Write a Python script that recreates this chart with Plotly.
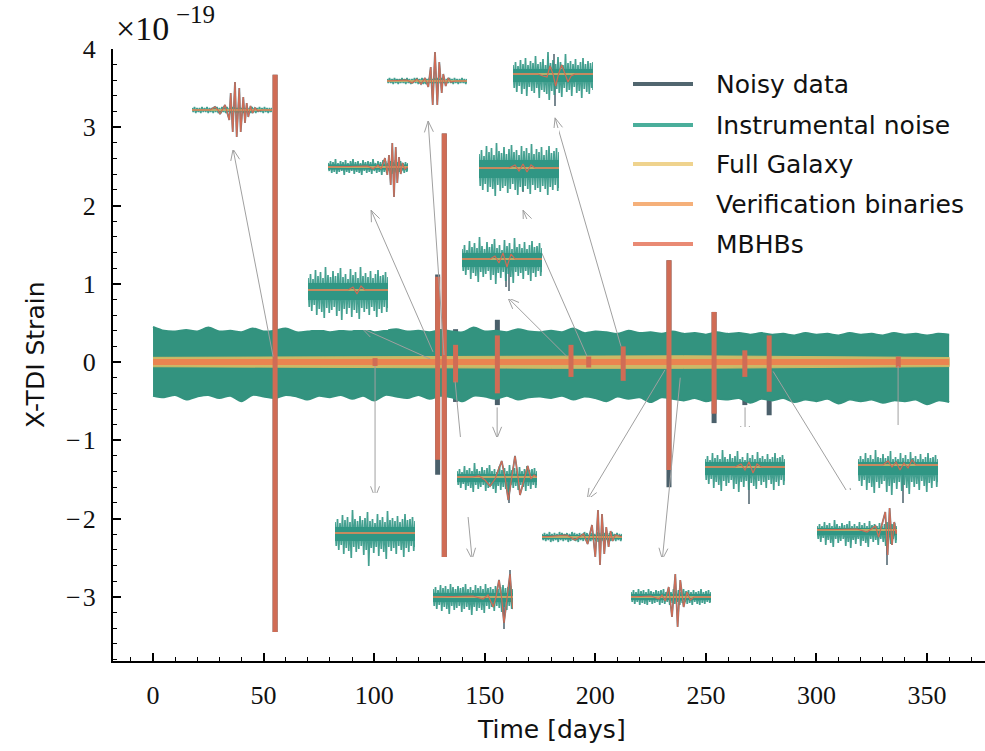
import math
import plotly.graph_objects as go

# ---------------- main panel data (strain, units of 1e-19) ----------------
noise_days = list(range(0, 361, 5))
noise_upper = [0.45, 0.40, 0.39, 0.41, 0.39, 0.44, 0.39, 0.40, 0.38, 0.43,
               0.39, 0.40, 0.43, 0.38, 0.39, 0.41, 0.38, 0.40, 0.39, 0.43,
               0.38, 0.40, 0.42, 0.39, 0.40, 0.38, 0.41, 0.39, 0.38, 0.44,
               0.39, 0.40, 0.38, 0.42, 0.39, 0.38, 0.40, 0.38, 0.43, 0.37,
               0.39, 0.38, 0.36, 0.40, 0.37, 0.38, 0.36, 0.39, 0.36, 0.37,
               0.35, 0.38, 0.36, 0.37, 0.35, 0.37, 0.35, 0.36, 0.34, 0.37,
               0.35, 0.36, 0.34, 0.37, 0.35, 0.36, 0.34, 0.37, 0.35, 0.36,
               0.34, 0.36, 0.35]
noise_lower = [-0.43, -0.45, -0.42, -0.48, -0.44, -0.42, -0.46, -0.43, -0.50, -0.42,
               -0.44, -0.46, -0.42, -0.44, -0.48, -0.43, -0.45, -0.42, -0.47, -0.43,
               -0.49, -0.42, -0.44, -0.46, -0.42, -0.47, -0.43, -0.45, -0.50, -0.43,
               -0.44, -0.47, -0.43, -0.48, -0.45, -0.44, -0.46, -0.43, -0.48, -0.44,
               -0.46, -0.50, -0.44, -0.47, -0.45, -0.51, -0.45, -0.47, -0.49, -0.46,
               -0.50, -0.47, -0.48, -0.46, -0.52, -0.47, -0.49, -0.46, -0.51, -0.48,
               -0.50, -0.47, -0.53, -0.48, -0.50, -0.48, -0.52, -0.49, -0.50, -0.48,
               -0.54, -0.49, -0.51]
galaxy_days = list(range(0, 361, 20))
galaxy_upper = [0.060, 0.062, 0.064, 0.066, 0.068, 0.070, 0.072, 0.074, 0.077, 0.080,
                0.082, 0.082, 0.080, 0.077, 0.073, 0.068, 0.064, 0.060, 0.058]
galaxy_lower = [-0.060, -0.062, -0.064, -0.066, -0.068, -0.070, -0.072, -0.074, -0.077, -0.080,
                -0.082, -0.082, -0.080, -0.077, -0.073, -0.068, -0.064, -0.060, -0.058]
verif_days = [0, 360]
verif_strain = [0.0, 0.0]
mbhb_days = [55.2, 128.7, 131.7, 136.8, 155.7, 100.4, 189.0, 197.0, 212.6, 233.3, 253.7, 267.6, 278.6, 337.0]
mbhb_top = [3.67, 1.09, 2.92, 0.22, 0.34, 0.05, 0.22, 0.07, 0.20, 1.30, 0.64, 0.15, 0.34, 0.07]
mbhb_bottom = [-3.45, -1.25, -2.56, -0.26, -0.40, -0.05, -0.19, -0.07, -0.24, -1.38, -0.66, -0.19, -0.38, -0.07]
data_top = [3.67, 1.12, 2.92, 0.42, 0.54, 0.05, 0.22, 0.07, 0.20, 1.30, 0.64, 0.15, 0.34, 0.07]
data_bottom = [-3.45, -1.44, -2.56, -0.51, -0.55, -0.05, -0.19, -0.07, -0.24, -1.60, -0.78, -0.55, -0.68, -0.07]

x_ticks = [0, 50, 100, 150, 200, 250, 300, 350]
y_ticks = [-3, -2, -1, 0, 1, 2, 3, 4]
y_ticktext = ["−\u200a3", "−\u200a2", "−\u200a1", "0", "1", "2", "3", "4"]
legend_labels = ["Noisy data", "Instrumental noise", "Full Galaxy", "Verification binaries", "MBHBs"]

# ---------------- zoom-in panels (local units) ----------------
inset_t = [2.5 * i for i in range(33)]

A_core = (1, -1)
A_hi = [2, 3, 2, 2, 3, 2, 3, 2, 2, 3, 3, 2, 3, 2, 3, 2, 3, 3, 2, 3, 2, 2, 3, 2, 3, 2, 2, 3, 2, 3, 2, 2, 2]
A_lo = [-2, -3, -2, -3, -2, -2, -3, -2, -3, -2, -3, -3, -2, -3, -2, -3, -2, -3, -3, -2, -3, -2, -2, -3, -2, -3, -2, -2, -3, -2, -3, -2, -2]
A_ct = [0, 18, 23, 26, 28, 31, 33, 35.3, 37.3, 38.7, 40.7, 43, 44.7, 47.3, 48.7, 51.3, 53, 54.7, 56.3, 58.5, 60.5, 63, 66, 70, 80]
A_cv = [0, 0, 3, 0, -4, 2, 5, -3, -10, 17, -22, 28, -27, 22, -22, 13, -13, 7, -7, 4, -3, 2, -1, 0, 0]
A_dark = []

B_core = (1, -1)
B_hi = [2, 3, 2, 3, 2, 2, 3, 2, 3, 2, 2, 3, 3, 2, 3, 2, 2, 3, 2, 3, 3, 2, 3, 2, 2, 3, 2, 3, 2, 2, 3, 2, 2]
B_lo = [-2, -2, -3, -2, -3, -2, -2, -3, -2, -3, -2, -2, -3, -2, -3, -3, -2, -2, -3, -2, -3, -2, -2, -3, -2, -2, -3, -2, -3, -2, -2, -3, -2]
B_ct = [0, 20, 25, 30, 34, 38, 41.3, 43.7, 45.7, 48, 50.3, 52.3, 54.7, 56.3, 58.7, 61.3, 64, 68, 80]
B_cv = [0, 1, -2, 2, -3, 3, -6, 14, -24, 29, -24, 19, -12, 7, -5, 3, -1, 0, 0]
B_dark = []

C_core = (2.5, -2.5)
C_hi = [4, 6, 5, 8, 4, 6, 5, 7, 4, 6, 8, 5, 6, 4, 7, 5, 6, 5, 8, 4, 6, 5, 7, 6, 4, 6, 5, 7, 5, 6, 4, 5, 4]
C_lo = [-4, -6, -5, -7, -5, -4, -8, -5, -6, -4, -7, -5, -6, -8, -4, -6, -5, -7, -4, -6, -5, -8, -5, -6, -4, -7, -5, -6, -5, -4, -6, -5, -4]
C_ct = [0, 40, 45, 50, 53, 55, 57, 59.3, 61, 62.7, 64.3, 66, 67.7, 69.3, 71, 72.7, 74.5, 76.5, 80]
C_cv = [0, 1, -2, 2, -2, 3, 9, -8, 12, -18, 24, -30, 20, -16, 10, -7, 4, -2, 0]
C_dark = []

D_core = (5, -8)
D_hi = [9, 12, 8, 14, 10, 16, 9, 13, 11, 18, 10, 12, 15, 9, 22, 11, 14, 10, 17, 12, 9, 20, 11, 13, 10, 15, 9, 12, 16, 10, 13, 11, 12]
D_lo = [-14, -18, -12, -20, -15, -22, -13, -17, -19, -14, -24, -16, -18, -20, -26, -17, -21, -15, -19, -23, -14, -18, -16, -22, -13, -19, -17, -24, -15, -18, -20, -14, -16]
D_ct = [0, 25, 30, 34, 37, 40, 42.7, 45.5, 48.7, 52, 55, 58, 62, 80]
D_cv = [0, 0, -2, -3, 8, 0, -12, 0, 9, 0, -8, -2, 0, 0]
D_dark = [(42.0, -32), (41.0, 20)]

E_core = (8, -10)
E_hi = [14, 18, 12, 22, 16, 20, 13, 25, 17, 15, 21, 14, 19, 23, 16, 18, 13, 22, 17, 20, 15, 24, 14, 19, 16, 21, 13, 18, 22, 15, 17, 20, 16]
E_lo = [-18, -22, -16, -24, -19, -21, -28, -17, -23, -20, -18, -25, -21, -16, -22, -27, -19, -23, -18, -21, -26, -17, -22, -20, -24, -18, -21, -27, -19, -22, -17, -23, -20]
E_ct = [0, 30, 36, 40, 44, 48, 52, 56, 80]
E_cv = [0, 0, 3, -3, 4, -4, 3, 0, 0]
E_dark = [(44.0, -24)]

F_core = (6, -8)
F_hi = [10, 14, 9, 18, 12, 16, 11, 22, 13, 10, 17, 12, 15, 20, 11, 14, 9, 19, 13, 16, 10, 21, 12, 15, 11, 17, 10, 14, 18, 12, 13, 16, 11]
F_lo = [-12, -16, -11, -20, -14, -17, -23, -13, -18, -15, -12, -21, -16, -25, -14, -19, -13, -22, -15, -18, -24, -13, -17, -14, -20, -12, -16, -22, -14, -18, -12, -17, -13]
F_ct = [0, 28, 33, 37, 41, 45, 49, 53, 80]
F_cv = [0, 0, 3, -4, 6, -8, 5, 0, 0]
F_dark = [(44.0, -28), (47.0, -32)]

G_core = (7, -10)
G_hi = [12, 16, 11, 20, 14, 18, 12, 23, 15, 13, 19, 14, 17, 22, 13, 16, 11, 21, 15, 18, 12, 23, 14, 17, 13, 19, 12, 16, 20, 14, 15, 18, 13]
G_lo = [-17, -21, -15, -25, -19, -22, -28, -18, -23, -20, -17, -26, -21, -30, -19, -24, -18, -27, -20, -23, -29, -18, -22, -19, -25, -17, -21, -27, -19, -23, -17, -22, -18]
G_ct = [0, 40, 45, 49, 53, 57, 80]
G_cv = [0, 0, 3, -4, 4, 0, 0]
G_dark = []

H_core = (6, -8)
H_hi = [11, 14, 10, 18, 13, 16, 11, 23, 14, 12, 17, 13, 15, 21, 12, 14, 10, 19, 13, 16, 11, 22, 13, 15, 12, 17, 11, 14, 19, 13, 14, 16, 12]
H_lo = [-13, -17, -12, -21, -15, -18, -25, -14, -19, -16, -13, -22, -17, -33, -15, -20, -14, -23, -16, -19, -26, -14, -18, -15, -21, -13, -17, -24, -15, -19, -13, -18, -14]
H_ct = [0, 80]
H_cv = [0, 0]
H_dark = []

I_core = (3, -5)
I_hi = [6, 8, 5, 11, 7, 9, 6, 14, 8, 6, 10, 7, 9, 12, 6, 8, 5, 11, 7, 9, 6, 12, 7, 9, 6, 10, 6, 8, 11, 7, 8, 9, 6]
I_lo = [-8, -11, -7, -13, -9, -11, -15, -8, -12, -10, -8, -14, -11, -9, -12, -16, -9, -13, -10, -12, -15, -8, -11, -9, -13, -8, -10, -14, -9, -12, -8, -11, -8]
I_ct = [0, 15, 22, 28, 33, 38, 44.7, 48, 51.3, 55, 58, 61, 63, 67, 70.7, 74, 77, 80]
I_cv = [0, 0, 1, -3, -9, -2, 16, 0, -23, 0, 21, 0, -18, -3, 11, -2, 2, 0]
I_dark = [(52.0, -26)]

J_core = (4, -5)
J_hi = [8, 10, 7, 12, 9, 11, 8, 13, 10, 8, 11, 9, 10, 13, 8, 10, 7, 12, 9, 11, 8, 13, 9, 10, 8, 11, 8, 10, 12, 9, 10, 11, 8]
J_lo = [-9, -12, -8, -14, -10, -12, -17, -9, -13, -11, -9, -15, -12, -10, -13, -18, -10, -14, -11, -13, -16, -9, -12, -10, -14, -9, -11, -15, -10, -13, -9, -12, -9]
J_ct = [0, 40, 50, 55, 60.3, 63, 66, 68.5, 71, 74, 77, 79, 80]
J_cv = [0, 1, -2, 2, -10, 0, 17, 0, -26, 0, 23, -5, -12]
J_dark = [(71.0, -32), (77.0, 27)]

K_core = (2, -2)
K_hi = [3, 4, 3, 5, 3, 4, 3, 5, 4, 3, 4, 3, 5, 4, 3, 4, 3, 5, 4, 3, 4, 3, 5, 4, 3, 4, 3, 4, 5, 3, 4, 3, 3]
K_lo = [-3, -4, -3, -5, -4, -3, -5, -3, -4, -3, -5, -4, -3, -4, -5, -3, -4, -3, -5, -4, -3, -4, -5, -3, -4, -3, -5, -4, -3, -4, -3, -4, -3]
K_ct = [0, 25, 33, 41.6, 45.6, 50, 53.3, 56, 58, 60, 62.3, 64.3, 66.6, 68.6, 70.6, 73.3, 80]
K_cv = [0, 2, -3, 3, -7, 12, -20, 27, -28, 23, -17, 10, -10, 6, -4, 2, 0]
K_dark = []

L_core = (3, -3)
L_hi = [5, 7, 5, 8, 6, 7, 5, 8, 6, 5, 7, 6, 7, 8, 5, 7, 5, 8, 6, 7, 5, 8, 6, 7, 5, 7, 5, 6, 8, 5, 6, 7, 5]
L_lo = [-5, -7, -5, -8, -6, -7, -8, -5, -7, -6, -5, -8, -6, -7, -5, -8, -6, -7, -5, -8, -6, -5, -7, -6, -8, -5, -7, -8, -6, -7, -5, -6, -5]
L_ct = [0, 20, 28, 31, 34.3, 37.7, 41, 44.3, 46.6, 49.3, 52.6, 56, 59.3, 63, 80]
L_cv = [0, 1, -2, 2, -4, 10, -20, 23, -30, 17, -10, 5, -3, 0, 0]
L_dark = []

M_core = (5, -8)
M_hi = [8, 11, 7, 14, 9, 12, 8, 17, 10, 8, 13, 9, 11, 16, 8, 10, 7, 14, 9, 12, 8, 15, 9, 11, 8, 13, 8, 10, 14, 9, 10, 12, 8]
M_lo = [-13, -17, -12, -21, -15, -18, -24, -14, -19, -16, -13, -22, -17, -25, -15, -20, -14, -23, -16, -19, -22, -14, -18, -15, -21, -13, -17, -23, -15, -19, -13, -18, -14]
M_ct = [0, 30, 36, 40, 44, 48, 52, 56, 80]
M_cv = [0, 0, 3, -3, 5, -6, 3, 0, 0]
M_dark = [(44.0, -37)]

N_core = (2, -5)
N_hi = [4, 6, 4, 8, 5, 7, 4, 10, 6, 4, 7, 5, 6, 9, 4, 6, 4, 8, 5, 7, 4, 9, 5, 6, 4, 7, 4, 6, 8, 5, 6, 7, 4]
N_lo = [-9, -12, -8, -15, -10, -13, -17, -9, -13, -11, -9, -16, -12, -18, -10, -14, -9, -16, -11, -13, -17, -9, -12, -10, -15, -9, -12, -16, -10, -14, -9, -13, -10]
N_ct = [0, 40, 50, 55, 58.5, 61.6, 65, 68.3, 70.6, 72.6, 75, 77.3, 79, 80]
N_cv = [0, 1, -2, 2, 4, -7, 7, 18, -25, 22, -15, 8, -4, 0]
N_dark = [(70.0, -35)]

O_core = (3, -10)
O_hi = [6, 9, 6, 12, 7, 10, 6, 15, 8, 7, 11, 7, 9, 14, 6, 8, 6, 12, 7, 10, 6, 13, 7, 9, 6, 11, 6, 8, 12, 7, 8, 10, 6]
O_lo = [-16, -21, -15, -25, -18, -22, -28, -17, -23, -19, -16, -27, -21, -30, -18, -24, -17, -26, -20, -23, -29, -17, -22, -19, -25, -16, -21, -27, -18, -23, -16, -22, -17]
O_ct = [0, 25, 30, 34, 38, 42, 46, 50, 54, 58, 80]
O_cv = [0, 0, 4, -2, 3, -5, 2, -3, 5, 0, 0]
O_dark = [(45.0, -38)]

# arrows: (tail day, tail strain, head day, head strain)
arrows = [
    (54.3, 0.07, 36.2, 2.72), (131.6, 0.09, 124.4, 3.08), (126.6, 0.13, 98.6, 1.94),
    (211.6, 0.20, 181.8, 3.12), (196.3, 0.07, 167.3, 1.94), (187.2, 0.07, 160.5, 0.82),
    (125.3, 0.04, 94.5, 0.43), (100.4, -0.05, 100.4, -1.73), (155.6, -0.58, 155.6, -0.97),
    (136.6, -0.25, 144.3, -2.52), (231.5, -0.10, 196.3, -1.76), (238.4, -0.20, 230.3, -2.52),
    (267.7, -0.58, 267.7, -0.96), (280.4, -0.12, 316.1, -1.76), (336.9, -0.05, 336.9, -0.96),
]

# ---------------- layout constants ----------------
W, H = 985, 751
ML, MR, MT, MB = 113, 0, 49, 90
PW, PH = W - ML - MR, H - MT - MB
XR = [-18.1, 376.2]
YR = [-3.82, 4.0]

C_DATA = "#4b606b"
C_NOISE = "#33937f"
C_GAL = "#cdb866"
C_VB = "#ea8450"
C_MBHB = "#d06c55"
C_ARROW = "#a0a0a0"
C_INSET_BODY = "rgba(44,146,127,0.95)"
C_INSET_NOISE = "rgba(48,150,132,0.9)"
LEG_COLORS = ["#51666f", "#4aae9b", "#efd38e", "#f5b07a", "#e98a74"]
SANS = "DejaVu Sans"
SERIF = "Liberation Serif"

def x2px(x): return ML + (x - XR[0]) / (XR[1] - XR[0]) * PW
def y2py(y): return MT + (YR[1] - y) / (YR[1] - YR[0]) * PH
def px2x(px): return XR[0] + (px - ML) / PW * (XR[1] - XR[0])
def py2y(py): return YR[1] - (py - MT) / PH * (YR[1] - YR[0])
def pfx(px): return (px - ML) / PW
def pfy(py): return (MT + PH - py) / PH

fig = go.Figure()
common = dict(mode="lines", hoverinfo="skip", showlegend=False)

# noisy data (visible at merger spikes)
sx, sy = [], []
for d, t, b in zip(mbhb_days, data_top, data_bottom):
    sx += [d, d, None]; sy += [t, b, None]
fig.add_trace(go.Scatter(x=sx, y=sy, line=dict(color=C_DATA, width=5), **common))
# instrumental noise (band between lower and upper excursions)
fig.add_trace(go.Scatter(x=noise_days, y=noise_lower,
                         line=dict(color=C_NOISE, width=2, shape="spline", smoothing=0.8), **common))
fig.add_trace(go.Scatter(x=noise_days, y=noise_upper, fill="tonexty", fillcolor=C_NOISE,
                         line=dict(color=C_NOISE, width=2, shape="spline", smoothing=0.8), **common))
# galaxy
fig.add_trace(go.Scatter(x=galaxy_days + galaxy_days[::-1], y=galaxy_upper + galaxy_lower[::-1],
                         fill="toself", fillcolor=C_GAL, line=dict(color=C_GAL, width=1), **common))
# verification binaries
fig.add_trace(go.Scatter(x=verif_days, y=verif_strain, line=dict(color=C_VB, width=6), **common))
# MBHBs
mx, my = [], []
for d, t, b in zip(mbhb_days, mbhb_top, mbhb_bottom):
    mx += [d, d, None]; my += [t, b, None]
fig.add_trace(go.Scatter(x=mx, y=my, line=dict(color=C_MBHB, width=5), **common))

# arrows (open V heads)
ax, ay = [], []
AL, ang = 12.0, math.radians(22)
for tx, ty, hx, hy in arrows:
    X0, Y0, X1, Y1 = x2px(tx), y2py(ty), x2px(hx), y2py(hy)
    n = math.hypot(X1 - X0, Y1 - Y0)
    vx, vy = -(X1 - X0) / n, -(Y1 - Y0) / n
    arms = []
    for s in (1, -1):
        c, sn = math.cos(ang), math.sin(s * ang)
        rx, ry = vx * c - vy * sn, vx * sn + vy * c
        arms.append((px2x(X1 + AL * rx), py2y(Y1 + AL * ry)))
    ax += [tx, hx, None, arms[0][0], hx, arms[1][0], None]
    ay += [ty, hy, None, arms[0][1], hy, arms[1][1], None]
fig.add_trace(go.Scatter(x=ax, y=ay, line=dict(color=C_ARROW, width=1), **common))

# insets
inset_pos = {"A": (192, 110), "B": (387, 81), "C": (328, 167), "D": (513, 74), "E": (479, 168),
             "F": (462, 259), "G": (308, 290), "H": (335, 533), "I": (457, 477), "J": (433, 597),
             "K": (542, 537), "L": (631, 597), "M": (705, 467), "N": (817, 530), "O": (858, 465)}
inset_data = {
    "A": (A_core, A_hi, A_lo, A_ct, A_cv, A_dark), "B": (B_core, B_hi, B_lo, B_ct, B_cv, B_dark),
    "C": (C_core, C_hi, C_lo, C_ct, C_cv, C_dark), "D": (D_core, D_hi, D_lo, D_ct, D_cv, D_dark),
    "E": (E_core, E_hi, E_lo, E_ct, E_cv, E_dark), "F": (F_core, F_hi, F_lo, F_ct, F_cv, F_dark),
    "G": (G_core, G_hi, G_lo, G_ct, G_cv, G_dark), "H": (H_core, H_hi, H_lo, H_ct, H_cv, H_dark),
    "I": (I_core, I_hi, I_lo, I_ct, I_cv, I_dark), "J": (J_core, J_hi, J_lo, J_ct, J_cv, J_dark),
    "K": (K_core, K_hi, K_lo, K_ct, K_cv, K_dark), "L": (L_core, L_hi, L_lo, L_ct, L_cv, L_dark),
    "M": (M_core, M_hi, M_lo, M_ct, M_cv, M_dark), "N": (N_core, N_hi, N_lo, N_ct, N_cv, N_dark),
    "O": (O_core, O_hi, O_lo, O_ct, O_cv, O_dark),
}
layout_axes = {}
for k, key in enumerate(inset_pos):
    idx = k + 2
    left, cy = inset_pos[key]
    core, hi, lo, ct, cv, dark = inset_data[key]
    top = max(cy - 40, MT)
    bot = min(cy + 40, MT + PH)
    layout_axes[f"xaxis{idx}"] = dict(domain=[pfx(left), pfx(left + 80)], range=[0, 80], visible=False,
                                      anchor=f"y{idx}", fixedrange=True)
    layout_axes[f"yaxis{idx}"] = dict(domain=[pfy(bot), pfy(top)], range=[-(bot - cy), cy - top],
                                      visible=False, anchor=f"x{idx}", fixedrange=True)
    xr, yr = f"x{idx}", f"y{idx}"
    # noisy data follows the signal
    if len(ct) > 2:
        fig.add_trace(go.Scatter(x=ct, y=cv, xaxis=xr, yaxis=yr,
                                 line=dict(color=C_DATA, width=1.8), opacity=0.8, **common))
    dx, dy = [], []
    for t, v in dark:
        dx += [t, t, None]; dy += [0, v, None]
    if dx:
        fig.add_trace(go.Scatter(x=dx, y=dy, xaxis=xr, yaxis=yr, line=dict(color=C_DATA, width=1.5), **common))
    # instrumental noise: solid body at the typical level plus zig-zag excursions
    t0, t1 = inset_t[0], inset_t[-1]
    fig.add_trace(go.Scatter(x=[t0, t1, t1, t0, t0], y=[core[0], core[0], core[1], core[1], core[0]],
                             xaxis=xr, yaxis=yr, fill="toself", fillcolor=C_INSET_BODY,
                             line=dict(width=0), **common))
    zx, zy = [], []
    for t, h, l in zip(inset_t, hi, lo):
        zx += [t, min(t + 1.25, 80)]; zy += [h, l]
    fig.add_trace(go.Scatter(x=zx, y=zy, xaxis=xr, yaxis=yr,
                             line=dict(color=C_INSET_NOISE, width=1.7), **common))
    fig.add_trace(go.Scatter(x=[0, 80], y=[0, 0], xaxis=xr, yaxis=yr, line=dict(color="#eab062", width=1.6), **common))
    fig.add_trace(go.Scatter(x=ct, y=cv, xaxis=xr, yaxis=yr, line=dict(color=C_MBHB, width=1.2), **common))

# legend (drawn manually)
shapes, annos = [], []
leg_rows = [84, 125, 164, 204, 244]
for lab, col, py in zip(legend_labels, LEG_COLORS, leg_rows):
    shapes.append(dict(type="line", xref="paper", yref="paper", x0=pfx(633), x1=pfx(693), y0=pfy(py), y1=pfy(py),
                       line=dict(color=col, width=4)))
    annos.append(dict(text=lab, xref="paper", yref="paper", x=pfx(714), y=pfy(py), xanchor="left", yanchor="middle",
                      showarrow=False, font=dict(family=SANS, size=25, color="#111111")))
annos.append(dict(text="X-TDI Strain", xref="paper", yref="paper", x=pfx(35), y=pfy(355), textangle=-90,
                  xanchor="center", yanchor="middle", showarrow=False,
                  font=dict(family=SANS, size=25, color="#111111")))
annos.append(dict(text="Time [days]", xref="paper", yref="paper", x=pfx(551), y=pfy(729),
                  xanchor="center", yanchor="middle", showarrow=False,
                  font=dict(family=SANS, size=25, color="#111111")))
annos.append(dict(text="×10", xref="paper", yref="paper", x=pfx(114), y=pfy(29),
                  xanchor="left", yanchor="middle", showarrow=False,
                  font=dict(family=SERIF, size=34, color="#111111")))
annos.append(dict(text="−19", xref="paper", yref="paper", x=pfx(174), y=pfy(15),
                  xanchor="left", yanchor="middle", showarrow=False,
                  font=dict(family=SERIF, size=25, color="#111111")))

tickfont = dict(family=SERIF, size=26, color="#111111")
fig.update_layout(
    width=W, height=H, margin=dict(l=ML, r=MR, t=MT, b=MB),
    paper_bgcolor="white", plot_bgcolor="white",
    xaxis=dict(range=XR, showgrid=False, zeroline=False, showline=True, linecolor="black", linewidth=2,
               ticks="inside", ticklen=8, tickwidth=1.5, tickcolor="black", tickvals=x_ticks,
               minor=dict(ticks="inside", ticklen=4, tickwidth=1.2, tickcolor="black", dtick=10, tick0=0),
               tickfont=tickfont, ticklabelstandoff=10, fixedrange=True),
    yaxis=dict(range=YR, showgrid=False, zeroline=False, showline=True, linecolor="black", linewidth=2,
               ticks="inside", ticklen=8, tickwidth=1.5, tickcolor="black", tickvals=y_ticks,
               ticktext=y_ticktext,
               minor=dict(ticks="inside", ticklen=4, tickwidth=1.2, tickcolor="black", dtick=0.2, tick0=0),
               tickfont=tickfont, ticklabelstandoff=10, fixedrange=True),
    shapes=shapes, annotations=annos, showlegend=False,
    **layout_axes,
)
fig.write_html("out.html")
